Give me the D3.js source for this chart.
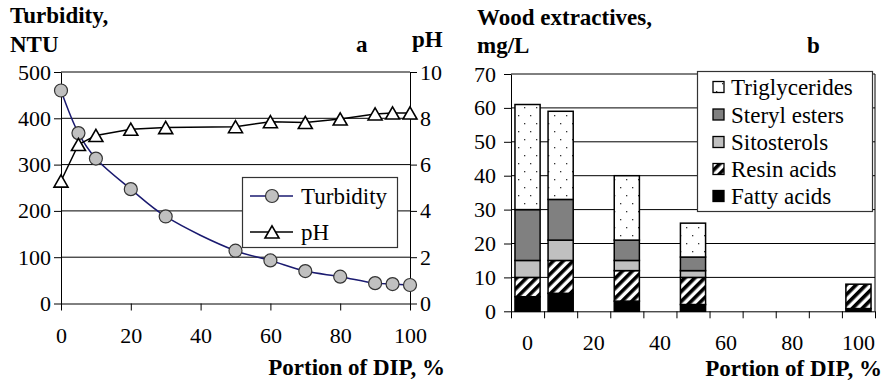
<!DOCTYPE html>
<html><head><meta charset="utf-8">
<script src="https://cdn.jsdelivr.net/npm/d3@7"></script>
</head>
<body style="margin:0">
<svg id="chart" width="886" height="384"></svg>
<script>
// ---------- data: panel a ----------
const dipA = [0, 5, 10, 20, 30, 50, 60, 70, 80, 90, 95, 100];
const turbidity = [460, 368, 313, 247, 188, 114, 93, 70, 58, 44, 42, 40];
const pH = [5.29, 6.87, 7.26, 7.53, 7.6, 7.64, 7.85, 7.82, 7.97, 8.19, 8.23, 8.23];
const ticksTurb = [0, 100, 200, 300, 400, 500];
const ticksPH = [0, 2, 4, 6, 8, 10];
const ticksDipA = [0, 20, 40, 60, 80, 100];

// ---------- data: panel b ----------
const dipB = ["0", "10", "20", "30", "40", "50", "60", "70", "80", "90", "100"];
const fattyAcids   = [4.3, 5.3, 0, 3, 0, 2, 0, 0, 0, 0, 0.8];
const resinAcids   = [5.7, 9.7, 0, 9, 0, 8, 0, 0, 0, 0, 7.2];
const sitosterols  = [5, 6, 0, 3, 0, 2, 0, 0, 0, 0, 0];
const sterylEsters = [15, 12, 0, 6, 0, 4, 0, 0, 0, 0, 0];
const triglycerides= [31, 26, 0, 19, 0, 10, 0, 0, 0, 0, 0];
const seriesNames = ["Fatty acids", "Resin acids", "Sitosterols", "Steryl esters", "Triglycerides"];
const ticksB = [0, 10, 20, 30, 40, 50, 60, 70];
const labelsDipB = ["0", "20", "40", "60", "80", "100"];

const FONT = '"Liberation Serif", "Times New Roman", Tinos, serif';
const svg = d3.select("#chart");

function styleAxis(g, size) {
  g.attr("font-family", null).attr("font-size", null);
  g.selectAll("text").style("font-family", FONT).attr("font-size", size).attr("fill", "#000");
  g.selectAll("line").attr("stroke", "#000");
  g.select(".domain").attr("stroke", "#000");
}
function txt(x, y, t, size, opts) {
  opts = opts || {};
  const e = svg.append("text").attr("x", x).attr("y", y)
    .style("font-family", FONT).attr("font-size", size)
    .attr("text-anchor", opts.anchor || "start").text(t);
  if (opts.bold) e.attr("font-weight", "bold");
  if (opts.dy) e.attr("dy", opts.dy);
  return e;
}

// patterns
const defs = svg.append("defs");
const dots = defs.append("pattern").attr("id", "dots").attr("patternUnits", "userSpaceOnUse")
  .attr("width", 12).attr("height", 16);
dots.append("rect").attr("width", 12).attr("height", 16).attr("fill", "#fff");
dots.append("rect").attr("x", 2).attr("y", 3).attr("width", 1.3).attr("height", 1.3).attr("fill", "#333");
dots.append("rect").attr("x", 8).attr("y", 11).attr("width", 1.3).attr("height", 1.3).attr("fill", "#333");
const stripes = defs.append("pattern").attr("id", "stripes").attr("patternUnits", "userSpaceOnUse")
  .attr("width", 7).attr("height", 7).attr("patternTransform", "rotate(45)");
stripes.append("rect").attr("width", 7).attr("height", 7).attr("fill", "#fff");
stripes.append("rect").attr("width", 3.6).attr("height", 7).attr("fill", "#000");

const fills = ["#000", "url(#stripes)", "#c0c0c0", "#808080", "url(#dots)"];

// titles
txt(10, 23, "Turbidity,", 23, { bold: true });
txt(10, 52, "NTU", 23, { bold: true });
txt(356, 52, "a", 23, { bold: true });
txt(412, 47, "pH", 23, { bold: true });
txt(445, 375, "Portion of DIP, %", 23, { bold: true, anchor: "end" });
txt(477, 25, "Wood extractives,", 23, { bold: true });
txt(477, 53, "mg/L", 23, { bold: true });
txt(807, 53, "b", 23, { bold: true });
txt(882, 376, "Portion of DIP, %", 23, { bold: true, anchor: "end" });

// ================= Panel a =================
const xA = d3.scaleLinear().domain([0, 100]).range([61, 410]);
const yT = d3.scaleLinear().domain([0, 500]).range([303.5, 72]);
const yP = d3.scaleLinear().domain([0, 10]).range([303.5, 72]);

svg.append("g").selectAll("line").data(ticksTurb.filter(d => d > 0)).join("line")
  .attr("x1", xA(0)).attr("x2", xA(100))
  .attr("y1", d => yT(d)).attr("y2", d => yT(d))
  .attr("stroke", "#000").attr("stroke-width", 1);

const axL = svg.append("g").attr("transform", `translate(${xA(0)},0)`)
  .call(d3.axisLeft(yT).tickValues(ticksTurb).tickSize(7).tickPadding(3).tickSizeOuter(0));
styleAxis(axL, 22);
const axR = svg.append("g").attr("transform", `translate(${xA(100)},0)`)
  .call(d3.axisRight(yP).tickValues(ticksPH).tickSize(7).tickPadding(3).tickSizeOuter(0));
styleAxis(axR, 22);
const axB = svg.append("g").attr("transform", `translate(0,${yT(0)})`)
  .call(d3.axisBottom(xA).tickValues(ticksDipA).tickSize(7).tickPadding(17).tickSizeOuter(0));
styleAxis(axB, 22);

// turbidity line (smoothed)
const turbPts = dipA.map((d, i) => [xA(d), yT(turbidity[i])]);
svg.append("path").attr("d", d3.line().curve(d3.curveCatmullRom.alpha(0.5))(turbPts))
  .attr("fill", "none").attr("stroke", "#1a1a70").attr("stroke-width", 1.5);
svg.append("g").selectAll("circle").data(turbPts).join("circle")
  .attr("cx", d => d[0]).attr("cy", d => d[1]).attr("r", 6.5)
  .attr("fill", "#c0c0c0").attr("stroke", "#333").attr("stroke-width", 1.2);

// pH line
const phPts = dipA.map((d, i) => [xA(d), yP(pH[i])]);
svg.append("path").attr("d", d3.line()(phPts))
  .attr("fill", "none").attr("stroke", "#000").attr("stroke-width", 1.5);
const tri = d3.symbol().type(d3.symbolTriangle).size(85);
svg.append("g").selectAll("path").data(phPts).join("path")
  .attr("d", tri).attr("transform", d => `translate(${d[0]},${d[1] + 2})`)
  .attr("fill", "#fff").attr("stroke", "#000").attr("stroke-width", 1.6);

// legend a
const lgA = svg.append("g");
lgA.append("rect").attr("x", 242.5).attr("y", 177.5).attr("width", 155).attr("height", 70)
  .attr("fill", "#fff").attr("stroke", "#333").attr("stroke-width", 1.2);
lgA.append("line").attr("x1", 250).attr("x2", 293).attr("y1", 196).attr("y2", 196)
  .attr("stroke", "#1a1a70").attr("stroke-width", 1.5);
lgA.append("circle").attr("cx", 272).attr("cy", 196).attr("r", 6.5)
  .attr("fill", "#c0c0c0").attr("stroke", "#333").attr("stroke-width", 1.2);
lgA.append("line").attr("x1", 250).attr("x2", 293).attr("y1", 232).attr("y2", 232)
  .attr("stroke", "#000").attr("stroke-width", 1.5);
lgA.append("path").attr("d", tri).attr("transform", "translate(272,234)")
  .attr("fill", "#fff").attr("stroke", "#000").attr("stroke-width", 1.6);
txt(301, 196, "Turbidity", 23, { dy: "0.35em" });
txt(301, 232, "pH", 23, { dy: "0.35em" });

// ================= Panel b =================
const xB = d3.scaleBand().domain(dipB).range([511, 875]).paddingInner(0).paddingOuter(0);
const xBt = d3.scaleLinear().domain([0, dipB.length]).range([511, 875]);
const yB = d3.scaleLinear().domain([0, 70]).range([311.3, 74]);

svg.append("g").selectAll("line").data(ticksB.filter(d => d > 0)).join("line")
  .attr("x1", 511).attr("x2", 875)
  .attr("y1", d => yB(d)).attr("y2", d => yB(d))
  .attr("stroke", "#000").attr("stroke-width", 1);
svg.append("line").attr("x1", 875).attr("x2", 875).attr("y1", yB(70)).attr("y2", yB(0))
  .attr("stroke", "#000").attr("stroke-width", 1);

const axBL = svg.append("g").attr("transform", "translate(511,0)")
  .call(d3.axisLeft(yB).tickValues(ticksB).tickSize(7).tickPadding(8).tickSizeOuter(0));
styleAxis(axBL, 22);
const axBT = svg.append("g").attr("transform", `translate(0,${yB(0)})`)
  .call(d3.axisBottom(xBt).ticks(dipB.length).tickFormat("").tickSize(7).tickSizeOuter(0));
styleAxis(axBT, 22);
const axBLab = svg.append("g").attr("transform", `translate(0,${yB(0)})`)
  .call(d3.axisBottom(xB).tickValues(labelsDipB).tickSize(0).tickPadding(23));
styleAxis(axBLab, 22);
axBLab.select(".domain").remove();

// stacked bars
const seriesVals = [fattyAcids, resinAcids, sitosterols, sterylEsters, triglycerides];
const rows = dipB.map((c, i) => {
  const r = { cat: c };
  seriesNames.forEach((n, k) => r[n] = seriesVals[k][i]);
  return r;
});
const stacked = d3.stack().keys(seriesNames)(rows);
const barW = xB.bandwidth() * 0.76;
stacked.forEach((layer, k) => {
  svg.append("g").selectAll("rect").data(layer.filter(d => d[1] - d[0] > 0)).join("rect")
    .attr("x", d => xB(d.data.cat) + (xB.bandwidth() - barW) / 2)
    .attr("width", barW)
    .attr("y", d => yB(d[1]))
    .attr("height", d => yB(d[0]) - yB(d[1]))
    .attr("fill", fills[k]).attr("stroke", "#000").attr("stroke-width", 1.5);
});

// legend b
const lgB = svg.append("g");
lgB.append("rect").attr("x", 697.5).attr("y", 71.5).attr("width", 175).attr("height", 140)
  .attr("fill", "#fff").attr("stroke", "#333").attr("stroke-width", 1.2);
const legOrder = [4, 3, 2, 1, 0];
const legY = [87, 114.5, 142, 169, 196];
legOrder.forEach((k, j) => {
  lgB.append("rect").attr("x", 713).attr("y", legY[j] - 5.5).attr("width", 11).attr("height", 11)
    .attr("fill", fills[k]).attr("stroke", "#000").attr("stroke-width", 1.3);
  txt(731, legY[j], seriesNames[k], 23, { dy: "0.35em" });
});
</script>
</body></html>
